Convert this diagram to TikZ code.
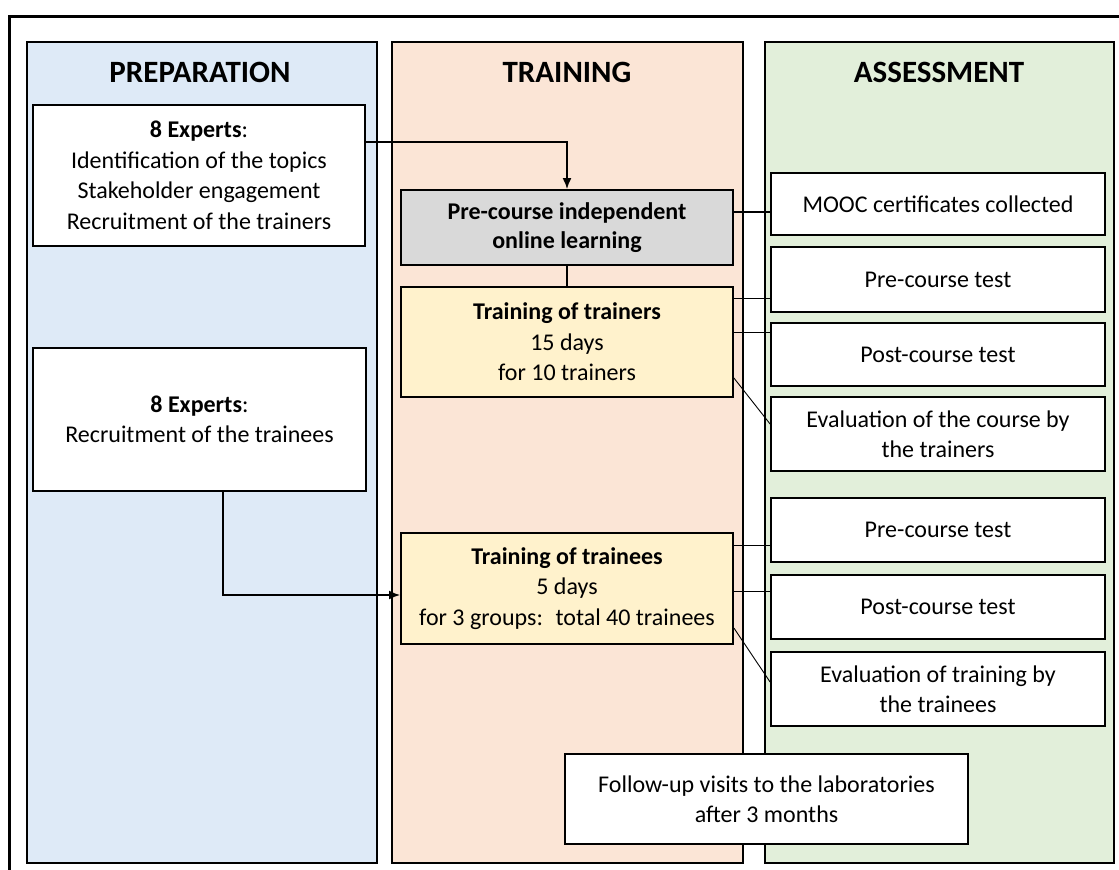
\documentclass[tikz,border=0pt]{standalone}
\usepackage{fontspec}
\setmainfont{Carlito}
\usepackage{xcolor}
\usepackage{tikz}
\usetikzlibrary{calc, positioning, arrows.meta}

\definecolor{prepblue}{RGB}{222,234,247}
\definecolor{trainpink}{RGB}{251,229,214}
\definecolor{assessgreen}{RGB}{226,239,218}
\definecolor{boxgray}{RGB}{217,217,217}
\definecolor{boxyellow}{RGB}{255,242,204}

\begin{document}
\begin{tikzpicture}[>={Latex[length=11pt, width=9pt]}, x=1pt, y=-1pt,
    column/.style={draw, line width=1.6pt, minimum width=#1, minimum height=821pt, inner sep=0pt},
    head/.style={font=\fontsize{31}{36}\selectfont\bfseries},
    box/.style={draw, line width=1.8pt, fill=white, align=center, inner sep=0pt,
                font=\fontsize{24}{30.5}\selectfont},
    link/.style={line width=1.8pt},
    thinlink/.style={line width=0.9pt}]
    \useasboundingbox (0,0) rectangle (1119,870);
    \clip (0,0) rectangle (1119,870);

    % Khung ngoài
    \draw[line width=2.6pt] (1135,16.5) -| (9.5,885);

    % Ba cột
    \node[column=350pt, fill=prepblue] (colprep) at (202,452.5) {};
    \node[column=351pt, fill=trainpink] (coltrain) at (567.5,452.5) {};
    \node[column=349pt, fill=assessgreen] (colassess) at (939.5,452.5) {};
    \node[head] (hprep) at (200,72) {PREPARATION};
    \node[head] (htrain) at (567,72) {TRAINING};
    \node[head] (hassess) at (939,72) {ASSESSMENT};

    % Cột PREPARATION
    \node[box, minimum width=332pt, minimum height=141pt] (exp1) at (199,175.5)
        {\textbf{8 Experts}:\\Identification of the topics\\Stakeholder engagement\\Recruitment of the trainers};
    \node[box, minimum width=333pt, minimum height=143pt] (exp2) at (199.5,419.5)
        {\textbf{8 Experts}:\\Recruitment of the trainees};

    % Cột TRAINING
    \node[box, fill=boxgray, font=\fontsize{24}{29}\selectfont\bfseries,
          minimum width=332pt, minimum height=75pt] (pre) at (567,227.5)
        {Pre-course independent\\online learning};
    \node[box, fill=boxyellow, minimum width=332pt, minimum height=110pt] (tot) at (567,342)
        {\textbf{Training of trainers}\\15 days\\for 10 trainers};
    \node[box, fill=boxyellow, minimum width=332pt, minimum height=111pt] (tte) at (567,588.5)
        {\textbf{Training of trainees}\\5 days\\for 3 groups:~ total 40 trainees};

    % Cột ASSESSMENT
    \node[box, minimum width=334pt, minimum height=62pt] (mooc) at (938,204) {MOOC certificates collected};
    \node[box, minimum width=334pt, minimum height=65pt] (pre1) at (938,279.5) {Pre-course test};
    \node[box, minimum width=334pt, minimum height=63pt] (post1) at (938,354.5) {Post-course test};
    \node[box, minimum width=334pt, minimum height=74pt] (eval1) at (938,434)
        {Evaluation of the course by\\the trainers};
    \node[box, minimum width=334pt, minimum height=64pt] (pre2) at (938,530) {Pre-course test};
    \node[box, minimum width=334pt, minimum height=64pt] (post2) at (938,607) {Post-course test};
    \node[box, minimum width=334pt, minimum height=74pt] (eval2) at (938,689)
        {Evaluation of training by\\the trainees};
    \node[box, minimum width=403pt, minimum height=90pt] (follow) at (766.5,799)
        {Follow-up visits to the laboratories\\after 3 months};

    % Các đường nối
    \draw[link, ->] ([yshift=33.5pt]exp1.east) -| (pre.north);
    \draw[link] (pre.south) -- (tot.north);
    \draw[link] ([yshift=15.5pt]pre.east) coordinate (p1) -- (p1 -| mooc.west);
    \draw[link, ->] ([xshift=23.5pt]exp2.south) |- ([yshift=-6.5pt]tte.west);

    \draw[thinlink] ([yshift=44pt]tot.east) coordinate (t1) -- (t1 -| pre1.west);
    \draw[thinlink] ([yshift=10pt]tot.east) coordinate (t2) -- (t2 -| post1.west);
    \draw[thinlink] ([yshift=-36pt]tot.east) -- ([yshift=10pt]eval1.west);

    \draw[thinlink] ([yshift=43.5pt]tte.east) coordinate (s1) -- (s1 -| pre2.west);
    \draw[thinlink] ([yshift=-2.5pt]tte.east) coordinate (s2) -- (s2 -| post2.west);
    \draw[thinlink] ([yshift=-39.5pt]tte.east) -- ([yshift=7pt]eval2.west);
\end{tikzpicture}
\end{document}
